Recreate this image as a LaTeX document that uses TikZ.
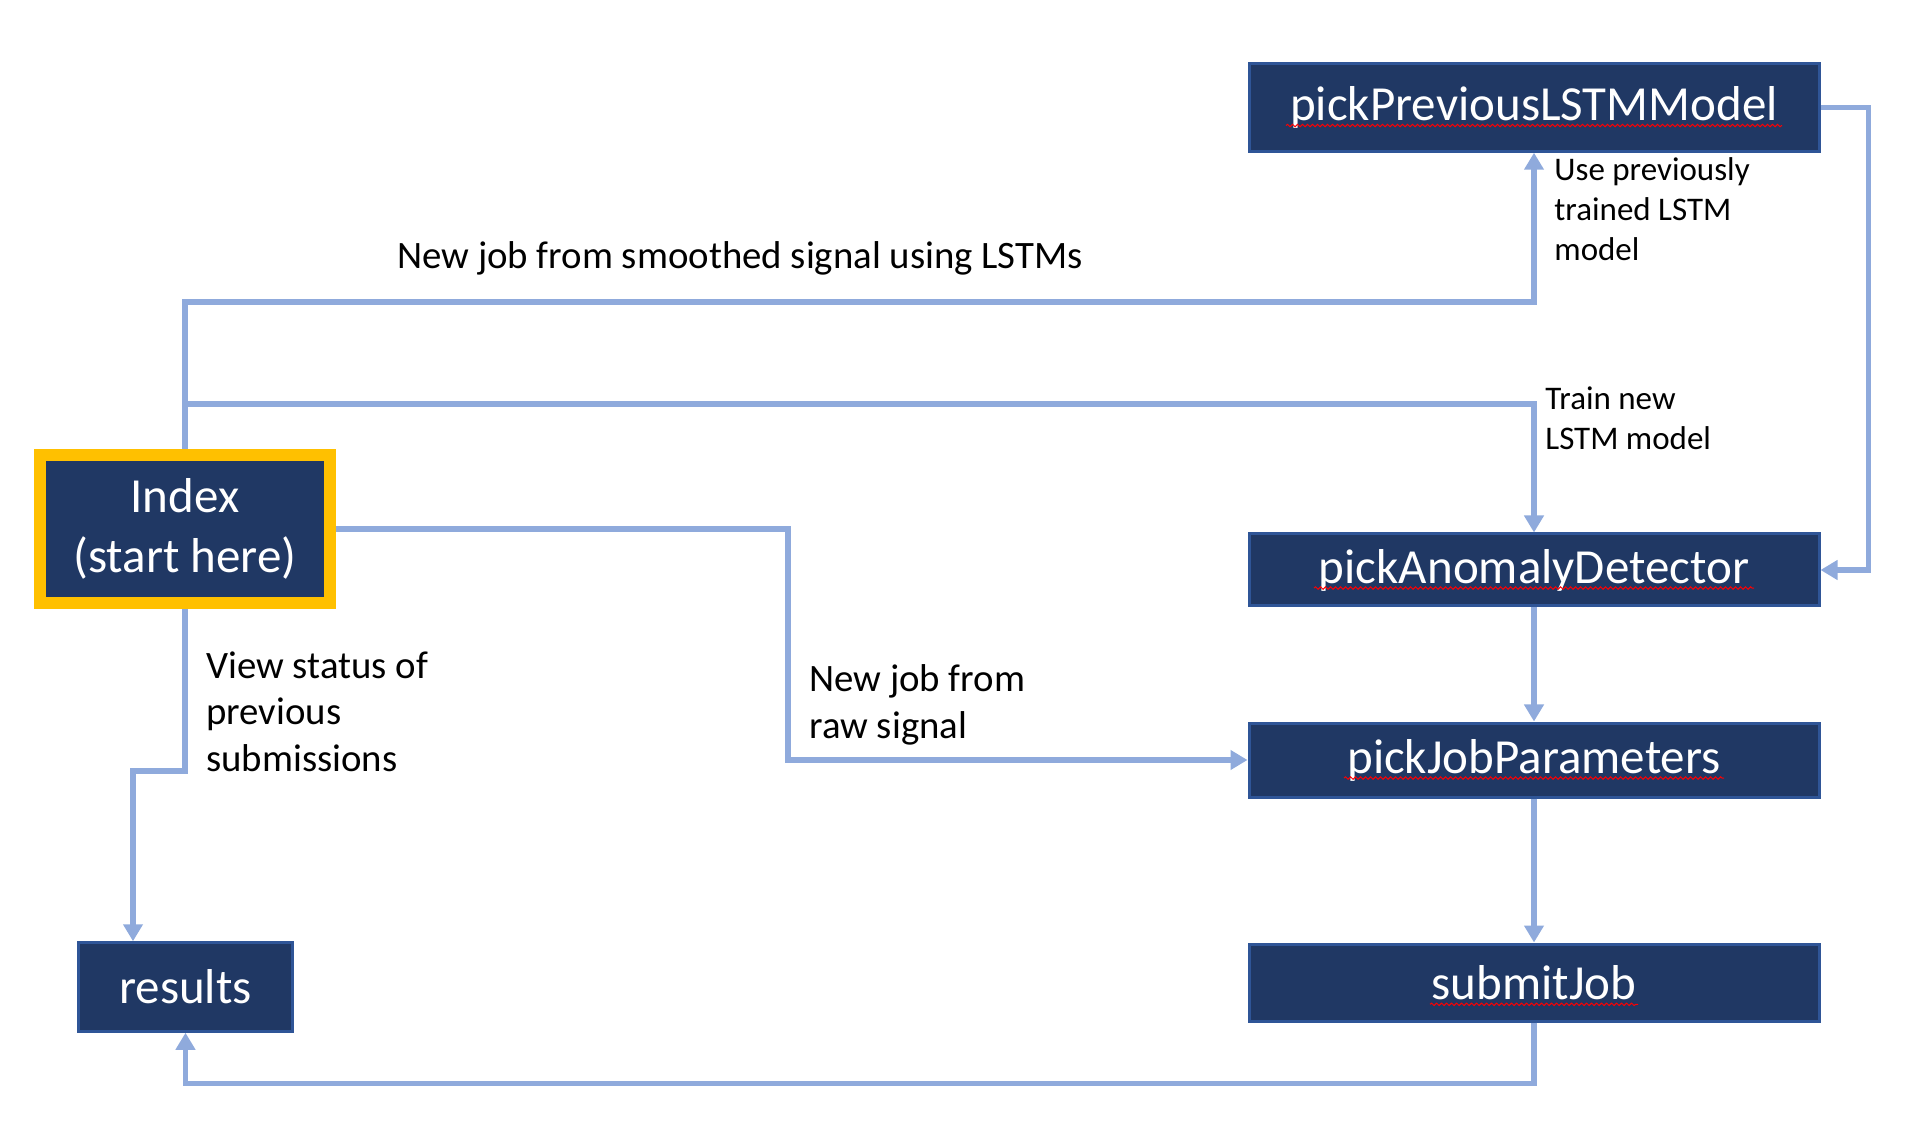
\documentclass[tikz,border=0pt]{standalone}
\usepackage{fontspec}
\setmainfont{Carlito}
\usepackage{tikz}
\usetikzlibrary{arrows.meta}
\usetikzlibrary{decorations.pathmorphing}
\definecolor{boxfill}{HTML}{203864}
\definecolor{boxedge}{HTML}{2F5597}
\definecolor{linkblue}{HTML}{8FAADC}
\definecolor{gold}{HTML}{FFC000}
\tikzstyle{box}=[draw=boxedge, fill=boxfill, text=white, line width=1.5pt, inner sep=0pt, minimum width=285pt, minimum height=37pt, font=\fontsize{24.5}{30}\selectfont]
\tikzstyle{lbl}=[anchor=base west, inner sep=0pt, align=left, font=\fontsize{19.4}{23.25}\selectfont]
\tikzstyle{sml}=[lbl, font=\fontsize{16.5}{20}\selectfont]
\tikzstyle{link}=[draw=linkblue, line width=2.75pt, -{Triangle[length=8.5pt,width=9.5pt]}]
\tikzstyle{spell}=[draw=red, line width=0.5pt, decorate, decoration={snake, segment length=2.5pt, amplitude=0.6pt}]

\begin{document}
\begin{tikzpicture}[x=0.5pt, y=-0.5pt]
    \useasboundingbox (0,0) rectangle (1928,1138);

    \node [box, minimum height=43.75pt] (prev) at (1534,107.5) {pickPreviousLSTMModel};
    \node [box, minimum height=36pt] (anom)     at (1534,570)   {pickAnomalyDetector};
    \node [box] (job)                           at (1534,760)   {pickJobParameters};
    \node [box, minimum height=38.5pt] (submit) at (1534,982.5) {submitJob};
    \node [box, draw=gold, line width=6pt, minimum width=145pt, minimum height=74pt, align=center] (index) at (185,529) {Index\\(start here)};
    \node [box, minimum width=106.75pt, minimum height=44.25pt] (results) at (185.5,987) {results};

    % spell-check marks under the names
    \draw [spell] ([xshift=-124pt,yshift=-2.5pt]prev.base)   -- ([xshift=124pt,yshift=-2.5pt]prev.base);
    \draw [spell] ([xshift=-110pt,yshift=-2.5pt]anom.base)   -- ([xshift=110pt,yshift=-2.5pt]anom.base);
    \draw [spell] ([xshift=-95pt,yshift=-2.5pt]job.base)     -- ([xshift=95pt,yshift=-2.5pt]job.base);
    \draw [spell] ([xshift=-52pt,yshift=-2.5pt]submit.base)  -- ([xshift=52pt,yshift=-2.5pt]submit.base);

    \coordinate (viewbend) at (133,771);

    \draw [link] (index.north) -- ++(0,-147) -| (prev.south);
    \draw [link] (index.north) -- ++(0,-45) -| (anom.north);
    \draw [link] (prev.east) -- ++(48,0) |- (anom.east);
    \draw [link] (index.east) -- ++(452,0) |- (job.west);
    \draw [link] (anom) -- (job);
    \draw [link] (job) -- (submit);
    \draw [link] (submit.south) -- ++(0,61) -| (results.south);
    \draw [link] (index.south) |- (viewbend) -- (viewbend |- results.north);

    \node [lbl] (smoothlbl) at (397,269)  {New job from smoothed signal using LSTMs};
    \node [sml] (uselbl)    at (1554,261) {Use previously\\trained LSTM\\model};
    \node [sml] (trainlbl)  at (1545,450) {Train new\\LSTM model};
    \node [lbl] (viewlbl)   at (206,771)  {View status of\\previous\\submissions};
    \node [lbl] (rawlbl)    at (809,738)  {New job from\\raw signal};

\end{tikzpicture}
\end{document}
